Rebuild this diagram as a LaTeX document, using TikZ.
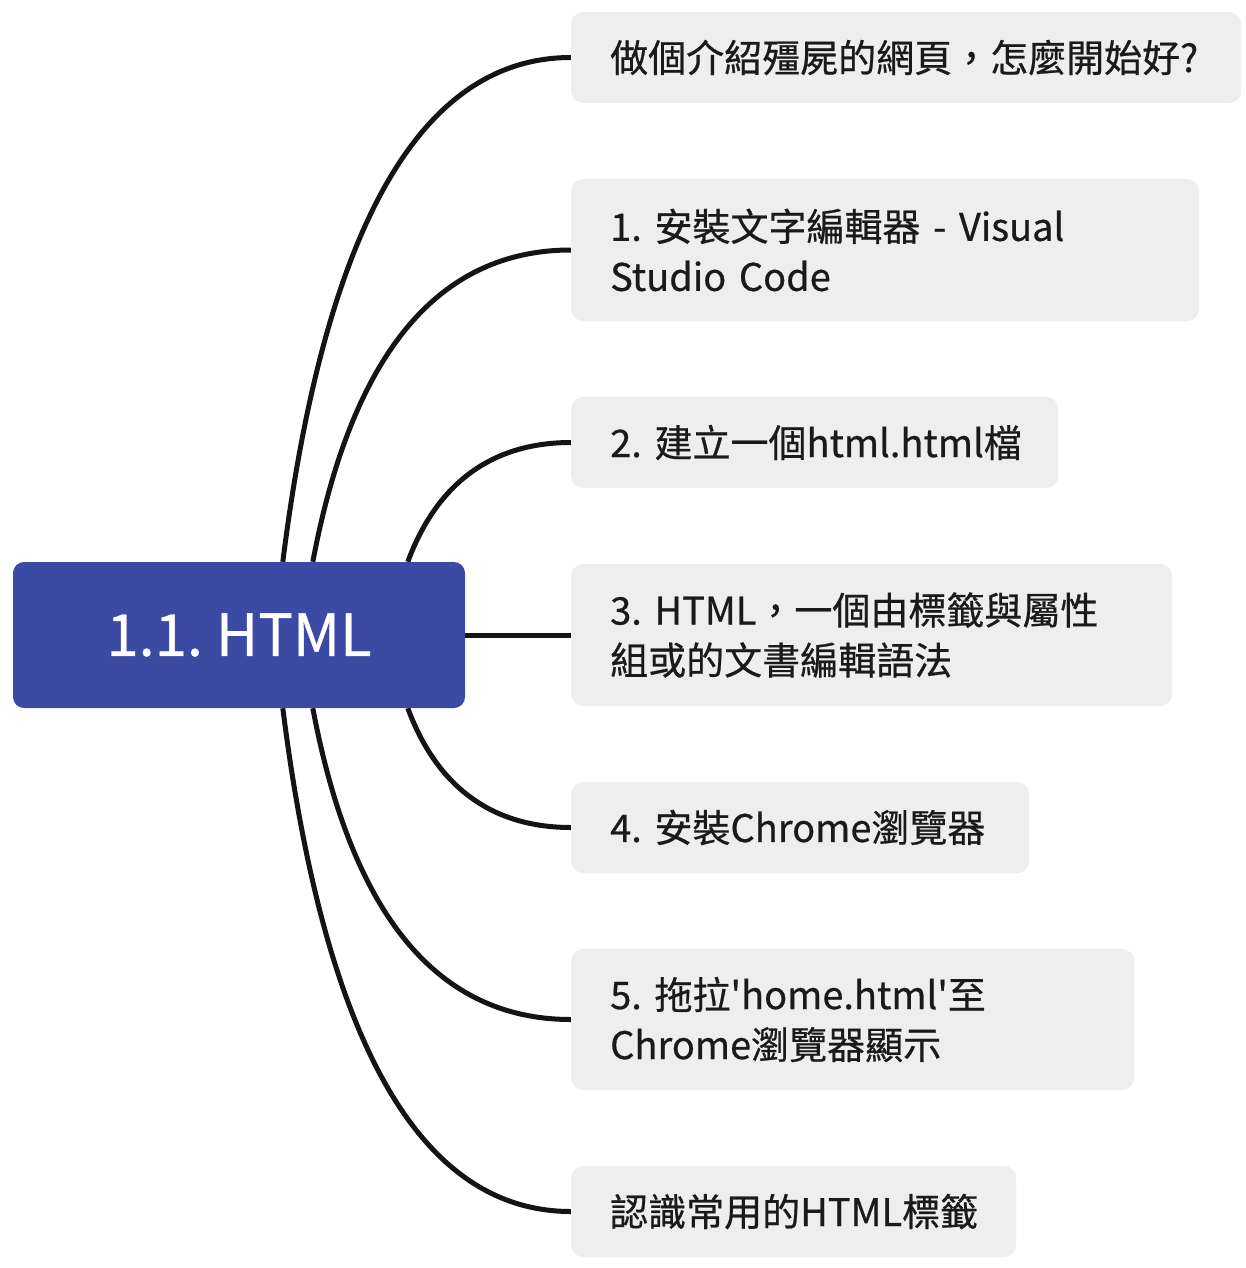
\documentclass[tikz,border=0pt]{standalone}
\usepackage{fontspec}
\setmainfont{Noto Sans CJK TC}[FakeBold=0.6]
\usetikzlibrary{calc}
\definecolor{hubblue}{HTML}{3D4AA3}
\definecolor{boxgray}{HTML}{EEEEEE}
\definecolor{ink}{HTML}{1A1A1A}
\definecolor{wire}{HTML}{141414}
\pgfdeclarelayer{backdrop}
\pgfdeclarelayer{bg}
\pgfsetlayers{backdrop,bg,main}
\tikzset{
  hubbox/.style={fill=hubblue, rounded corners=11pt, text=white, inner sep=0pt,
    minimum width=452pt, minimum height=146pt, font=\fontsize{58}{66}\selectfont},
  topicbox/.style={fill=boxgray, rounded corners=12pt, text=ink, anchor=west,
    inner xsep=39pt, inner ysep=0pt, align=left, font=\fontsize{38}{50}\selectfont},
  wirestyle/.style={draw=wire, line width=5pt}
}
\begin{document}
\frenchspacing
\begin{tikzpicture}[x=1pt,y=-1pt]
\useasboundingbox (0,0) rectangle (1246,1268);
\begin{pgfonlayer}{backdrop}
\fill[white] (0,0) rectangle (1246,1268);
\end{pgfonlayer}

\node[hubbox] (hub) at (239,635) {1.1. HTML};

\node[topicbox, text width=592pt, minimum height=91pt]  (b1) at (571,57.5)  {\mbox{做個介紹殭屍的網頁，怎麼開始好?}};
\node[topicbox, text width=550pt, minimum height=142pt] (b2) at (571,250)   {\mbox{1. 安裝文字編輯器 - Visual}\\\mbox{Studio Code}};
\node[topicbox, text width=409pt, minimum height=91pt]  (b3) at (571,442.5) {\mbox{2. 建立一個html.html檔}};
\node[topicbox, text width=523pt, minimum height=142pt] (b4) at (571,635)   {\mbox{3. HTML，一個由標籤與屬性}\\\mbox{組或的文書編輯語法}};
\node[topicbox, text width=380pt, minimum height=91pt]  (b5) at (571,827.5) {\mbox{4. 安裝Chrome瀏覽器}};
\node[topicbox, text width=485pt, minimum height=141pt] (b6) at (571,1019.5){\mbox{5. 拖拉\textquotesingle home.html\textquotesingle 至}\\\mbox{Chrome瀏覽器顯示}};
\node[topicbox, text width=367pt, minimum height=91pt]  (b7) at (571,1211.5){\mbox{認識常用的HTML標籤}};

\begin{pgfonlayer}{bg}
\draw[wirestyle] ($(hub.north west)+(270,0)$) .. controls (325,226) and (421,57.5) .. (b1.west);
\draw[wirestyle] ($(hub.north west)+(300,0)$) .. controls (352,354) and (438,250) .. (b2.west);
\draw[wirestyle] ($(hub.north west)+(395,0)$) .. controls (437,483) and (492,442.5) .. (b3.west);
\draw[wirestyle] (hub.east) -- (b4.west);
\draw[wirestyle] ($(hub.south west)+(395,0)$) .. controls (437,787) and (492,827.5) .. (b5.west);
\draw[wirestyle] ($(hub.south west)+(300,0)$) .. controls (352,916) and (438,1019.5) .. (b6.west);
\draw[wirestyle] ($(hub.south west)+(270,0)$) .. controls (325,1044) and (421,1211.5) .. (b7.west);
\end{pgfonlayer}
\end{tikzpicture}
\end{document}
